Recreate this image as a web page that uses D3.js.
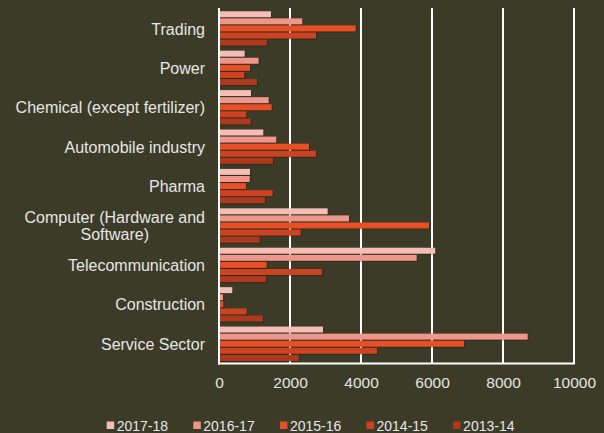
<!DOCTYPE html>
<html>
<head>
<meta charset="utf-8">
<script src="https://cdn.jsdelivr.net/npm/d3@7"></script>
<style>
  html, body { margin: 0; padding: 0; background: #3c3b28; }
  svg { display: block; }
  text { font-family: "Liberation Sans", Arial, sans-serif; }
</style>
</head>
<body>
<svg id="chart" width="604" height="433"></svg>
<script>
// ---- data ----
const categories = [
  "Trading",
  "Power",
  "Chemical (except fertilizer)",
  "Automobile industry",
  "Pharma",
  "Computer (Hardware and Software)",
  "Telecommunication",
  "Construction",
  "Service Sector"
];
const seriesNames = ["2017-18", "2016-17", "2015-16", "2014-15", "2013-14"];
const values2017_18 = [1465, 723, 901, 1248, 873, 3061, 6093, 375, 2930];
const values2016_17 = [2346, 1117, 1400, 1614, 864, 3662, 5568, 113, 8695];
const values2015_16 = [3850, 873, 1484, 2535, 761, 5915, 1343, 122, 6901];
const values2014_15 = [2732, 713, 770, 2732, 1512, 2300, 2901, 780, 4451];
const values2013_14 = [1352, 1070, 892, 1521, 1296, 1146, 1324, 1239, 2245];
const seriesValues = [values2017_18, values2016_17, values2015_16, values2014_15, values2013_14];
const xTicks = [0, 2000, 4000, 6000, 8000, 10000];
const colors = ["#f4bdb6", "#ef958a", "#e84f24", "#cd4220", "#ae391c"];

// ---- layout ----
const W = 604, H = 433;
const plotLeft = 219, plotRight = 574, plotTop = 8, plotBottom = 363.5;
const svg = d3.select("#chart");
svg.append("rect").attr("width", W).attr("height", H).attr("fill", "#3c3b28");

const x = d3.scaleLinear().domain([0, 10000]).range([plotLeft, plotRight]);
const y0 = d3.scaleBand().domain(categories).range([9.3, 364]).paddingInner(0.1).paddingOuter(0.05);
const y1 = d3.scaleBand().domain(seriesNames).range([0, y0.bandwidth()]);

// gridlines
svg.append("g").selectAll("line").data(xTicks.slice(1)).join("line")
  .attr("x1", d => x(d)).attr("x2", d => x(d))
  .attr("y1", plotTop).attr("y2", plotBottom)
  .attr("stroke", "#ffffff").attr("stroke-width", 2);

// bars
const rows = [];
categories.forEach((c, i) => {
  seriesNames.forEach((s, j) => rows.push({ cat: c, series: s, value: seriesValues[j][i], j }));
});
const barH = y1.bandwidth() - 1.1;
const bars = svg.append("g");
bars.selectAll("rect.shadow").data(rows).join("rect").attr("class", "shadow")
  .attr("x", x(0) + 1)
  .attr("y", d => y0(d.cat) + y1(d.series) + 1)
  .attr("width", d => x(d.value) - x(0))
  .attr("height", barH)
  .attr("fill", "#000").attr("opacity", 0.25);
bars.selectAll("rect.bar").data(rows).join("rect").attr("class", "bar")
  .attr("x", x(0))
  .attr("y", d => y0(d.cat) + y1(d.series))
  .attr("width", d => x(d.value) - x(0))
  .attr("height", barH)
  .attr("fill", d => colors[d.j]);

// axis lines
svg.append("line").attr("x1", plotLeft).attr("x2", plotLeft).attr("y1", plotTop).attr("y2", plotBottom + 1)
  .attr("stroke", "#ffffff").attr("stroke-width", 2);
svg.append("line").attr("x1", plotLeft - 1).attr("x2", plotRight + 1).attr("y1", plotBottom).attr("y2", plotBottom)
  .attr("stroke", "#ffffff").attr("stroke-width", 2);

// x axis labels
const xAxis = d3.axisBottom(x).tickValues(xTicks).tickSize(0).tickPadding(0).tickFormat(d3.format("d"));
const gx = svg.append("g").attr("transform", `translate(0,${plotBottom})`).call(xAxis);
gx.select(".domain").remove();
gx.selectAll("text").attr("fill", "#e4e4e4").attr("font-size", "15.5px")
  .attr("font-family", "Liberation Sans, Arial, sans-serif").attr("dy", null).attr("y", 24.5);

// category labels (wrapped, centered lines in a right-aligned block)
const labelRight = 205, wrapWidth = 195, lineH = 16.5;
const lg = svg.append("g");
categories.forEach(c => {
  const t = lg.append("text").attr("font-size", "16px").attr("fill", "#e6e6e6");
  const words = c.split(" ");
  const lines = [];
  let cur = [];
  const probe = t.append("tspan");
  words.forEach(w => {
    const test = cur.concat([w]).join(" ");
    probe.text(test);
    if (probe.node().getComputedTextLength() > wrapWidth && cur.length) {
      lines.push(cur.join(" "));
      cur = [w];
    } else cur.push(w);
  });
  lines.push(cur.join(" "));
  let maxW = 0;
  lines.forEach(l => { probe.text(l); maxW = Math.max(maxW, probe.node().getComputedTextLength()); });
  probe.remove();
  const cx = labelRight - maxW / 2;
  const cy = y0(c) + y0.bandwidth() / 2;
  const firstBase = cy - (lines.length - 1) * lineH / 2 + 5.5;
  lines.forEach((l, k) => {
    t.append("tspan").attr("x", cx).attr("y", firstBase + k * lineH).attr("text-anchor", "middle").text(l);
  });
});

// legend
const legendX0 = 106.7, legendStep = 86.6, legendBase = 431;
const leg = svg.append("g");
seriesNames.forEach((s, j) => {
  const lx = legendX0 + j * legendStep;
  leg.append("rect").attr("x", lx).attr("y", legendBase - 9.5).attr("width", 7.5).attr("height", 7.5).attr("fill", colors[j]);
  leg.append("text").attr("x", lx + 10).attr("y", legendBase).attr("font-size", "14px").attr("fill", "#e6e6e6").text(s);
});
</script>
</body>
</html>
